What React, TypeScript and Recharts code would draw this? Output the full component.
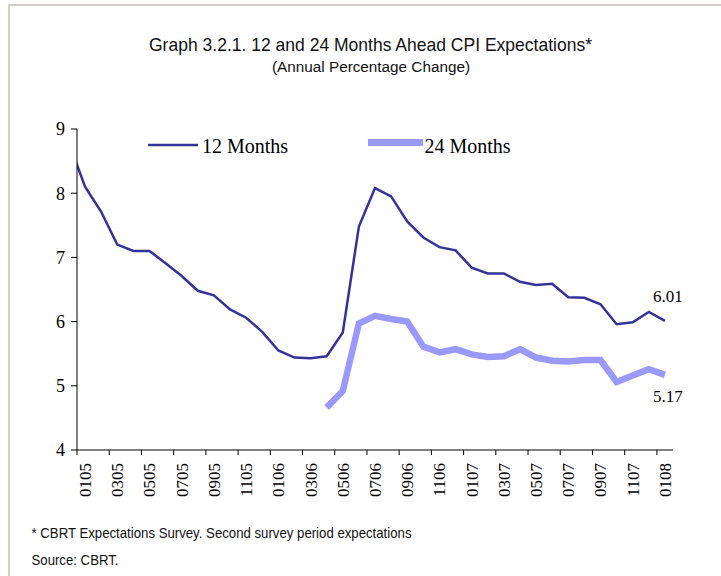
import React from 'react';
import { LineChart, Line, XAxis, YAxis } from 'recharts';

// Category labels (monthly survey, MMYY). First entry is the month before the axis start (clipped).
const monthLabels = [
  '1204',
  '0105', '0205', '0305', '0405', '0505', '0605', '0705', '0805', '0905', '1005', '1105', '1205',
  '0106', '0206', '0306', '0406', '0506', '0606', '0706', '0806', '0906', '1006', '1106', '1206',
  '0107', '0207', '0307', '0407', '0507', '0607', '0707', '0807', '0907', '1007', '1107', '1207',
  '0108',
];

const months12 = [
  8.78,
  8.10, 7.71, 7.20, 7.10, 7.10, 6.91, 6.71, 6.48, 6.41, 6.19, 6.06, 5.84,
  5.55, 5.44, 5.43, 5.46, 5.83, 7.48, 8.08, 7.95, 7.56, 7.31, 7.16, 7.11,
  6.84, 6.75, 6.75, 6.62, 6.57, 6.59, 6.38, 6.37, 6.27, 5.96, 5.99, 6.15,
  6.01,
];

const months24: (number | null)[] = [
  null,
  null, null, null, null, null, null, null, null, null, null, null, null,
  null, null, null, 4.66, 4.92, 5.97, 6.09, 6.04, 6.00, 5.61, 5.52, 5.57,
  5.49, 5.45, 5.46, 5.57, 5.44, 5.39, 5.38, 5.40, 5.40, 5.06, 5.16, 5.26,
  5.17,
];

const yTicks = [4, 5, 6, 7, 8, 9];

// index of first shown category (0105) in the arrays
const FIRST = 1;
const nCats = monthLabels.length - FIRST; // 37

const data = monthLabels.map((label, i) => ({
  pos: i - FIRST + 0.5,
  label,
  m12: months12[i],
  m24: months24[i],
}));

const boundaryTicks: number[] = [];
for (let k = 0; k < nCats; k += 2) boundaryTicks.push(k);
const labelTicks = boundaryTicks.map((k) => k + 0.5);

const labelFor = (v: number) => {
  const idx = Math.round(v - 0.5) + FIRST;
  return monthLabels[idx] ?? '';
};

const COLOR12 = '#333399';
const COLOR24 = '#9999FF';
const SERIF = "'Liberation Serif', 'Times New Roman', Times, serif";
const NARROW = "'Liberation Sans Narrow', 'Arial Narrow', 'Liberation Sans', Arial, sans-serif";

const LastLabel = (offsetY: number) => (props: any) => {
  const { x, y, value, index } = props;
  if (index !== data.length - 1 || value == null) return null;
  return (
    <text x={x + 3} y={y + offsetY} textAnchor="middle" fontFamily={SERIF} fontSize={17} fill="#000">
      {Number(value).toFixed(2)}
    </text>
  );
};

const XLabelTick = (props: any) => {
  const { x, y, payload } = props;
  return (
    <text
      transform={`translate(${x},${y}) rotate(-90)`}
      textAnchor="end"
      dy="0.35em"
      fontFamily={SERIF}
      fontSize={17}
      fill="#000"
    >
      {labelFor(payload.value)}
    </text>
  );
};

const NoTick = () => <g />;

export default function App() {
  return (
    <div style={{ position: 'absolute', left: 0, top: 0, width: 721, height: 576, background: '#fff' }}>
      <LineChart
        width={721}
        height={576}
        data={data}
        margin={{ top: 129, right: 48, bottom: 65, left: 17 }}
      >
        <XAxis
          xAxisId="b"
          dataKey="pos"
          type="number"
          domain={[0, nCats]}
          allowDataOverflow
          ticks={boundaryTicks}
          tick={NoTick}
          tickSize={5}
          height={1}
          stroke="#000"
          axisLine={{ stroke: '#000' }}
          tickLine={{ stroke: '#000' }}
          interval={0}
        />
        <XAxis
          xAxisId="l"
          dataKey="pos"
          type="number"
          domain={[0, nCats]}
          allowDataOverflow
          ticks={labelTicks}
          tick={XLabelTick}
          tickSize={0}
          tickMargin={12}
          axisLine={false}
          tickLine={false}
          height={60}
          interval={0}
        />
        <YAxis
          domain={[4, 9]}
          ticks={yTicks}
          width={60}
          tickSize={6}
          tickMargin={6}
          interval={0}
          axisLine={{ stroke: '#000' }}
          tickLine={{ stroke: '#000' }}
          tick={{ fontFamily: SERIF, fontSize: 18, fill: '#000' }}
          allowDataOverflow
        />
        <Line
          xAxisId="b"
          type="linear"
          dataKey="m24"
          stroke={COLOR24}
          strokeWidth={6.5}
          dot={false}
          activeDot={false}
          isAnimationActive={false}
          connectNulls={false}
          label={LastLabel(27)}
        />
        <Line
          xAxisId="b"
          type="linear"
          dataKey="m12"
          stroke={COLOR12}
          strokeWidth={2.5}
          dot={false}
          activeDot={false}
          isAnimationActive={false}
          label={LastLabel(-19)}
        />
      </LineChart>
      <svg
        width={721}
        height={576}
        style={{ position: 'absolute', left: 0, top: 0, pointerEvents: 'none' }}
      >
        <line x1={8} y1={5} x2={721} y2={5} stroke="#d4d0c8" strokeWidth={2} />
        <line x1={9} y1={4} x2={9} y2={576} stroke="#d4d0c8" strokeWidth={2} />
        <text x={370.5} y={51} textAnchor="middle" fontFamily={NARROW} fontSize={19} fill="#111"
          textLength={443} lengthAdjust="spacingAndGlyphs">
          Graph 3.2.1. 12 and 24 Months Ahead CPI Expectations*
        </text>
        <text x={371} y={72} textAnchor="middle" fontFamily={NARROW} fontSize={15.5} fill="#111"
          textLength={198} lengthAdjust="spacingAndGlyphs">
          (Annual Percentage Change)
        </text>
        <line x1={148} y1={145} x2={198} y2={145} stroke={COLOR12} strokeWidth={2.5} />
        <text x={202} y={153} fontFamily={SERIF} fontSize={20} fill="#000">12 Months</text>
        <line x1={368} y1={142.5} x2={423} y2={142.5} stroke={COLOR24} strokeWidth={7} />
        <text x={424.5} y={153} fontFamily={SERIF} fontSize={20} fill="#000">24 Months</text>
        <text x={31.5} y={538} fontFamily={NARROW} fontSize={15} fill="#111"
          textLength={380} lengthAdjust="spacingAndGlyphs">
          * CBRT Expectations Survey. Second survey period expectations
        </text>
        <text x={31.5} y={565} fontFamily={NARROW} fontSize={15} fill="#111"
          textLength={87} lengthAdjust="spacingAndGlyphs">
          Source: CBRT.
        </text>
      </svg>
    </div>
  );
}
